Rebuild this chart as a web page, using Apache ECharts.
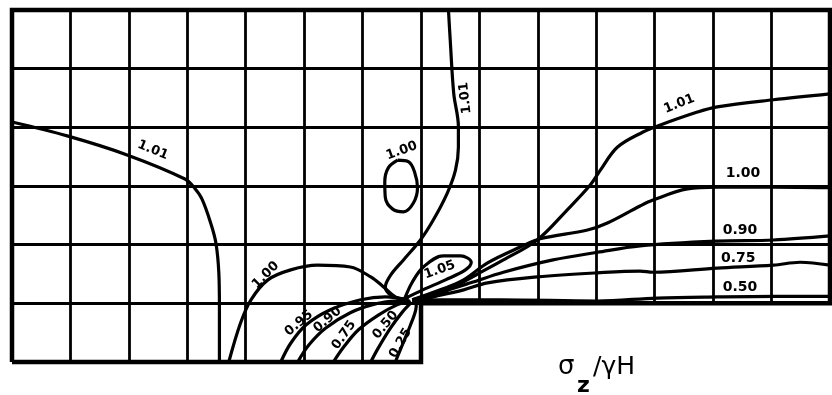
<!DOCTYPE html>
<html>
<head>
<meta charset="utf-8">
<script src="https://cdn.jsdelivr.net/npm/echarts@6/dist/echarts.min.js"></script>
<style>
  html, body { margin: 0; padding: 0; background: #fff; }
  #chart { width: 832px; height: 395px; }
</style>
</head>
<body>
<div id="chart"></div>
<script>
// Section outline: 14 x 6 grid cells, the right half stops one cell higher (step at column 7).
const gridCols = 14;
const gridRows = 6;
const stepCol = 7;
const stepRow = 1;

// Contours of sigma_z / gamma*H, in grid-cell units (x to the right, y up from the base).
const c101Left = [[0, 4.09], [0.96, 3.85], [1.97, 3.53], [2.96, 3.12], [3.12, 2.97], [3.25, 2.78],
  [3.40, 2.37], [3.49, 2.03], [3.54, 1.52], [3.55, 0.94], [3.55, 0]];
const c100Base = [[3.71, 0], [3.91, 0.66], [4.09, 1.06], [4.38, 1.40], [4.77, 1.57], [5.23, 1.65],
  [5.79, 1.62], [6.14, 1.45], [6.36, 1.28], [6.56, 1.11], [6.76, 1.05]];
const c101Centre = [[7.47, 6.0], [7.50, 5.49], [7.56, 4.58], [7.64, 4.01], [7.64, 3.66], [7.59, 3.27],
  [7.45, 2.88], [7.21, 2.42], [6.99, 2.08], [6.70, 1.74], [6.48, 1.48], [6.39, 1.28], [6.50, 1.13], [6.74, 1.06]];
const c100Loop = [[6.60, 3.44], [6.79, 3.41], [6.89, 3.24], [6.94, 2.97], [6.87, 2.71], [6.70, 2.56],
  [6.51, 2.61], [6.39, 2.80], [6.38, 3.07], [6.44, 3.31], [6.60, 3.44]];
const c105Loop = [[6.72, 1.08], [6.85, 1.36], [7.04, 1.62], [7.38, 1.81], [7.68, 1.81], [7.86, 1.70],
  [7.76, 1.57], [7.42, 1.40], [7.03, 1.23], [6.72, 1.08]];
const c101Right = [[6.85, 1.06], [7.21, 1.11], [7.56, 1.28], [7.97, 1.50], [8.41, 1.74], [8.99, 2.08],
  [9.50, 2.59], [9.90, 3.02], [10.07, 3.27], [10.36, 3.66], [10.80, 3.92], [11.04, 4.02], [11.73, 4.26],
  [12.07, 4.35], [13.03, 4.47], [14, 4.57]];
const c100Right = [[6.85, 1.06], [7.33, 1.23], [7.73, 1.40], [8.14, 1.69], [8.70, 1.96], [9.04, 2.10],
  [9.85, 2.25], [10.19, 2.37], [10.75, 2.66], [10.97, 2.76], [11.56, 2.95], [12.07, 2.98], [13.03, 2.98], [14, 2.97]];
const c090Right = [[6.85, 1.06], [7.33, 1.19], [7.85, 1.35], [8.41, 1.53], [9.26, 1.74], [10.02, 1.87],
  [10.75, 1.98], [12.07, 2.06], [13.03, 2.08], [14, 2.15]];
const c075Right = [[6.85, 1.05], [7.33, 1.14], [7.73, 1.23], [8.14, 1.35], [8.99, 1.45], [10.02, 1.52],
  [10.75, 1.55], [10.97, 1.53], [12.07, 1.60], [13.03, 1.65], [13.49, 1.70], [14, 1.65]];
const c050Right = [[6.85, 1.04], [7.33, 1.06], [8.36, 1.06], [10.02, 1.04], [11.04, 1.09], [12.07, 1.11],
  [13.03, 1.12], [14, 1.12]];
const c095Base = [[4.60, 0], [4.77, 0.32], [5.03, 0.63], [5.45, 0.89], [5.97, 1.06], [6.39, 1.11], [6.79, 1.06]];
const c090Base = [[4.89, 0], [5.08, 0.29], [5.37, 0.58], [5.79, 0.84], [6.22, 0.99], [6.56, 1.04], [6.80, 1.04]];
const c075Base = [[5.50, 0], [5.68, 0.26], [5.93, 0.55], [6.27, 0.80], [6.58, 0.97], [6.82, 1.04]];
const c050Base = [[6.14, 0], [6.27, 0.24], [6.48, 0.58], [6.68, 0.85], [6.84, 1.02]];
const c025Base = [[6.56, 0], [6.68, 0.29], [6.82, 0.63], [6.91, 0.89], [6.92, 1.02]];

// Contour values written beside the curves, with the spot and angle of each tag.
const tagText = ['1.01', '1.01', '1.00', '1.01', '1.00', '0.90', '0.75', '0.50',
  '1.00', '1.05', '0.95', '0.90', '0.75', '0.50', '0.25'];
const tagSpot = [[2.41, 3.61], [7.76, 4.50], [6.67, 3.60], [11.42, 4.40], [12.51, 3.22], [12.46, 2.25],
  [12.43, 1.77], [12.46, 1.28], [4.34, 1.48], [7.32, 1.57], [4.91, 0.66], [5.40, 0.72], [5.68, 0.46],
  [6.39, 0.63], [6.65, 0.32]];
const tagAngle = [-22, 96, 20, 22, 0, 0, 0, 0, 45, 20, 40, 40, 55, 50, 60];

const axisTitle = { sigma: 'σ', sub: 'z', rest: '/γH' };

// Build the cell lines and the outline from the grid counts.
const innerSegments = [];
for (let i = 1; i < gridCols; i++) {
  const y0 = i < stepCol ? 0 : stepRow;
  innerSegments.push({ coords: [[i, y0], [i, gridRows]] });
}
for (let j = 1; j < gridRows; j++) {
  const x1 = j === stepRow ? stepCol : gridCols;
  innerSegments.push({ coords: [[0, j], [x1, j]] });
}
const outline = [[0, 0], [0, gridRows], [gridCols, gridRows], [gridCols, stepRow], [stepCol, stepRow], [stepCol, 0], [0, 0]];

const contours = [c101Left, c100Base, c101Centre, c100Loop, c105Loop, c101Right, c100Right,
  c090Right, c075Right, c050Right, c095Base, c090Base, c075Base, c050Base, c025Base];

const chart = echarts.init(document.getElementById('chart'), null, { renderer: 'canvas' });

const series = [
  {
    type: 'lines', coordinateSystem: 'cartesian2d', polyline: false, clip: false, silent: true,
    lineStyle: { color: '#000', width: 2.8, opacity: 1 },
    data: innerSegments, z: 1
  },
  {
    type: 'lines', coordinateSystem: 'cartesian2d', polyline: true, clip: false, silent: true,
    lineStyle: { color: '#000', width: 4.5, opacity: 1, join: 'miter' },
    data: [{ coords: outline }], z: 3
  }
];
contours.forEach(function (pts) {
  series.push({
    type: 'line', data: pts, smooth: 0.35, showSymbol: false, clip: false, silent: true,
    lineStyle: { color: '#000', width: 3.2 }, z: 2
  });
});
series.push({
  type: 'scatter', symbolSize: 0, silent: true, z: 4,
  itemStyle: { opacity: 1 },
  data: tagText.map(function (t, k) {
    return {
      name: t, value: tagSpot[k],
      label: { rotate: tagAngle[k], fontSize: k >= 4 && k <= 7 ? 14 : 13 }
    };
  }),
  label: {
    show: true, position: 'inside', formatter: '{b}', color: '#000', opacity: 1,
    fontFamily: 'DejaVu Sans', fontWeight: 'bold', fontSize: 13, textBorderWidth: 0
  }
});

chart.setOption({
  animation: false,
  backgroundColor: '#fff',
  grid: { left: 12, right: 2, top: 10, bottom: 33 },
  xAxis: { type: 'value', min: 0, max: gridCols, show: false },
  yAxis: { type: 'value', min: 0, max: gridRows, show: false },
  series: series,
  graphic: [
    { type: 'text', left: 558, top: 354, style: { text: axisTitle.sigma, font: '26px "DejaVu Sans"', fill: '#000' } },
    { type: 'text', left: 577, top: 375, style: { text: axisTitle.sub, font: 'bold 22px "DejaVu Sans"', fill: '#000' } },
    { type: 'text', left: 593, top: 355, style: { text: axisTitle.rest, font: '25px "DejaVu Sans"', fill: '#000' } }
  ]
});
</script>
</body>
</html>
